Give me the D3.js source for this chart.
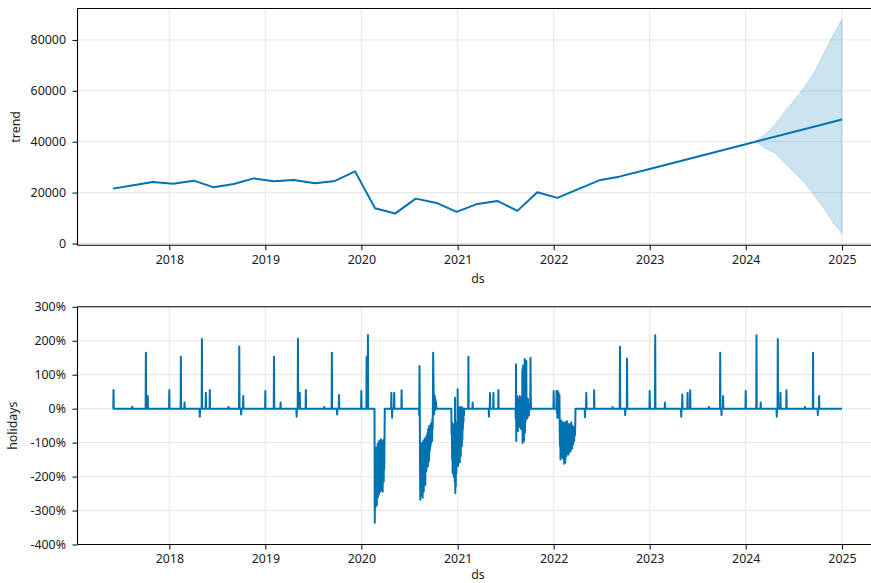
<!DOCTYPE html>
<html>
<head>
<meta charset="utf-8">
<script src="https://cdn.jsdelivr.net/npm/d3@7"></script>
<style>
  html, body { margin: 0; padding: 0; background: #ffffff; }
  svg { display: block; font-family: "Noto Sans", "Open Sans", sans-serif; }
</style>
</head>
<body>
<svg id="chart" width="871" height="583"></svg>
<script>
// ---------- trend component (knots of the piecewise-linear trend) ----------
const trendDates = [
  "2017-06-01", "2017-08-17", "2017-10-30", "2018-01-16", "2018-04-04", "2018-06-19",
  "2018-09-03", "2018-11-18", "2019-02-02", "2019-04-19", "2019-07-09", "2019-09-23",
  "2019-12-08", "2020-02-22", "2020-05-08", "2020-07-26", "2020-10-13", "2020-12-28",
  "2021-03-17", "2021-06-01", "2021-08-16", "2021-10-31", "2022-01-15", "2022-06-23",
  "2022-09-07", "2023-01-01", "2024-01-01", "2025-01-01"
];
const trendValues = [
  21569, 22863, 24196, 23529, 24706, 22078,
  23412, 25608, 24431, 24980, 23647, 24588,
  28353, 13843, 11765, 17647, 15961, 12431,
  15569, 16745, 12824, 20118, 17922, 24824,
  26275, 29294, 39000, 48745
];

// ---------- forecast uncertainty interval of the trend ----------
const bandDates = [
  "2024-02-08", "2024-03-14", "2024-04-21", "2024-05-29", "2024-07-06",
  "2024-08-13", "2024-09-20", "2024-10-28", "2024-11-29", "2025-01-01"
];
const bandUpper = [40100, 42745, 46667, 51882, 56471, 61686, 67569, 75412, 81961, 88118];
const bandLower = [40100, 37529, 35569, 31647, 27725, 23804, 18549, 13333, 8118, 3922];

// ---------- holidays component (percent effect) ----------
const seriesStart = "2017-06-01";
const seriesEnd = "2025-01-01";

// single-day holiday effects
const holidayDates = [
  "2017-06-03", "2017-08-13", "2017-10-04", "2017-10-11",
  "2018-01-01", "2018-02-14", "2018-02-28", "2018-04-27", "2018-05-05", "2018-05-20",
  "2018-06-04", "2018-08-14", "2018-09-24", "2018-10-01", "2018-10-09",
  "2019-01-01", "2019-02-03", "2019-02-28", "2019-04-30", "2019-05-05", "2019-05-12",
  "2019-06-04", "2019-08-13", "2019-09-11", "2019-10-01", "2019-10-08",
  "2020-01-01", "2020-01-21", "2020-01-26", "2020-04-24", "2020-04-27", "2020-05-05",
  "2020-06-02",
  "2021-02-11", "2021-02-27", "2021-04-30", "2021-05-04", "2021-05-17", "2021-06-05",
  "2022-01-01", "2022-04-30", "2022-05-05", "2022-06-04", "2022-08-13", "2022-09-10",
  "2022-09-30", "2022-10-07",
  "2023-01-01", "2023-01-22", "2023-02-28", "2023-05-01", "2023-05-05", "2023-05-25",
  "2023-06-04", "2023-08-14", "2023-09-26", "2023-10-01", "2023-10-07",
  "2024-01-01", "2024-02-11", "2024-02-27", "2024-04-28", "2024-05-02", "2024-05-12",
  "2024-06-04", "2024-08-13", "2024-09-13", "2024-10-01", "2024-10-06"
];
const holidayEffects = [
  55, 6, 165, 37,
  54, 153, 18, -24, 205, 47,
  55, 5, 183, -17, 37,
  52, 153, 18, -24, 206, 47,
  55, 5, 165, -17, 40,
  52, 153, 217, 47, -27, 47,
  54,
  153, 18, -24, 46, 47, 55,
  52, -25, 47, 54, 5, 182,
  -19, 148,
  52, 216, 18, -24, 42, 47,
  54, 5, 165, -19, 37,
  52, 216, 18, -24, 205, 47,
  54, 5, 165, -19, 37
];

// multi-week disruption periods: first day and one value per day
const waveStarts = ["2020-02-21", "2020-08-08", "2020-12-09", "2021-08-10", "2022-01-12"];
const wave1 = [
  -336, -180, -292, -130, -270, -115, -250, -160, -285, -120, -240, -105, -260,
  -140, -230, -100, -253, -95, -220, -130, -245, -100, -210, -90, -240, -120,
  -200, -95, -230, -110, -245, -100, -190, -92, -215, -120, -180, -100
];
const wave2 = [
  -20, 126, 40, -150, -268, -120, -240, -180, -105, -255, -140, -230, -100, -262,
  -150, -200, -95, -245, -130, -210, -90, -190, -120, -225, -86, -175, -110, -184,
  -80, -165, -100, -150, -70, -170, -60, -140, -75, -155, -51, -130, -65, -120,
  -55, -110, -45, -100, -60, -85, -40, -95, -30, -60, 20, 165, 90, 47, -17, 40,
  10, 37, -5, 30, 15, 0, 20, 0
];
const wave3 = [
  -76, -40, -150, -60, -189, -45, -170, -80, -200, -50, -160, -95, -215, 32,
  -248, -120, -230, -60, -190, -100, -170, -40, -150, 57, -60, -169, -20, -150,
  5, -130, -30, -158, 2, -120, -10, -140, 5, -100, -20, -110, 3, -90, -15, -60,
  0, -40, 0, -20, 0
];
const wave4 = [
  -30, 131, -95, 20, -60,
  37, -40, 10, -66, 30, -20, 25, -55, 15, -35, 37, -50, 5, -30, 20, -60, 10, -25, 35, -45,
  116, -101, 20, 127, -80, 30, -95, 60, -30, 146, -70, 10, -40, 20,
  -15, 141, -20, -30, 20, -15, -25, 30, 0, -10, 15, -20, 10, -5,
  0, 5, 0, 150, 40, 0
];
const wave5 = [
  52, -10, 50, -27, 52, 10, -25, 48, -20, 30, -27, 40, -60, -110, -40, -150, -55,
  -130, -35, -140, -70, -120, -45, -145, -60, -100, -40, -135, -75, -162, -50, -125,
  -65, -159, -40, -110, -80, -140, -50, -120, -37, -130, -70, -105, -45, -135, -60,
  -115, -50, -128, -75, -100, -45, -125, -60, -110, -40, -95, -70, -118, -50, -90,
  -65, -105, -55, -85, -76, -95, -60, -80, -76, -50, 0
];
const waves = [wave1, wave2, wave3, wave4, wave5];

// axis ticks
const yearTicks = [2018, 2019, 2020, 2021, 2022, 2023, 2024, 2025];
const trendTicks = [0, 20000, 40000, 60000, 80000];
const holidayTicks = [-400, -300, -200, -100, 0, 100, 200, 300];

// ---------- build the daily holiday series ----------
const parse = d3.utcParse("%Y-%m-%d");
const key = d3.utcFormat("%Y-%m-%d");
const effectByDay = new Map();
holidayDates.forEach((d, i) => effectByDay.set(d, holidayEffects[i]));
waves.forEach((vals, w) => {
  const start = parse(waveStarts[w]);
  vals.forEach((v, i) => effectByDay.set(key(d3.utcDay.offset(start, i)), v));
});
const days = d3.utcDay.range(parse(seriesStart), d3.utcDay.offset(parse(seriesEnd), 1));
const holidaySeries = days.map(d => ({ date: d, value: effectByDay.get(key(d)) ?? 0 }));

const trendSeries = trendDates.map((d, i) => ({ date: parse(d), value: trendValues[i] }));
const bandSeries = bandDates.map((d, i) => ({ date: parse(d), hi: bandUpper[i], lo: bandLower[i] }));

// ---------- layout ----------
const svg = d3.select("#chart");
const color = "#0072B2";
const gridColor = "#e6e6e6";
const fontSize = "12.4px";
const textColor = "#1a1a1a";

const x = d3.scaleUtc()
  .domain([parse("2018-01-01"), parse("2025-01-01")])
  .range([169.3, 842]);
const plotLeft = 77.5, plotRight = 880;

const panels = [
  { top: 8.5, bottom: 245.3, domain: [-700, 92350], ticks: trendTicks,
    fmt: d3.format("d"), label: "trend", labelX: 20, titleGap: 38 },
  { top: 306.8, bottom: 544.5, domain: [-400, 300], ticks: holidayTicks,
    fmt: d => String(d) + "%", label: "holidays", labelX: 16.5, titleGap: 34.8 }
];
panels.forEach(p => {
  p.y = d3.scaleLinear().domain(p.domain).range([p.bottom, p.top]);
});

svg.append("defs").selectAll("clipPath").data(panels).join("clipPath")
  .attr("id", (d, i) => "clip" + i)
  .append("rect")
  .attr("x", plotLeft).attr("y", d => d.top)
  .attr("width", plotRight - plotLeft).attr("height", d => d.bottom - d.top);

panels.forEach((p, i) => {
  const g = svg.append("g");

  // grid
  g.append("g").selectAll("line").data(p.ticks).join("line")
    .attr("x1", plotLeft).attr("x2", plotRight)
    .attr("y1", d => p.y(d)).attr("y2", d => p.y(d))
    .attr("stroke", gridColor).attr("stroke-width", 1);
  g.append("g").selectAll("line").data(yearTicks).join("line")
    .attr("x1", d => x(parse(d + "-01-01"))).attr("x2", d => x(parse(d + "-01-01")))
    .attr("y1", p.top).attr("y2", p.bottom)
    .attr("stroke", gridColor).attr("stroke-width", 1);

  const plot = g.append("g").attr("clip-path", `url(#clip${i})`);

  if (i === 0) {
    // uncertainty band
    plot.append("path").datum(bandSeries)
      .attr("d", d3.area().x(d => x(d.date)).y0(d => p.y(d.lo)).y1(d => p.y(d.hi)))
      .attr("fill", color).attr("fill-opacity", 0.2)
      .attr("stroke", color).attr("stroke-opacity", 0.2).attr("stroke-width", 1);
    plot.append("path").datum(trendSeries)
      .attr("d", d3.line().x(d => x(d.date)).y(d => p.y(d.value)))
      .attr("fill", "none").attr("stroke", color).attr("stroke-width", 2)
      .attr("stroke-linejoin", "round");
  } else {
    plot.append("path").datum(holidaySeries)
      .attr("d", d3.line().x(d => x(d.date)).y(d => p.y(d.value)))
      .attr("fill", "none").attr("stroke", color).attr("stroke-width", 2)
      .attr("stroke-linejoin", "round");
  }

  // y axis
  const ya = g.append("g").attr("transform", `translate(${plotLeft},0)`)
    .call(d3.axisLeft(p.y).tickValues(p.ticks).tickFormat(p.fmt).tickSize(5).tickPadding(6.5));
  ya.select(".domain").remove();

  // x axis
  const xa = g.append("g").attr("transform", `translate(0,${p.bottom})`)
    .call(d3.axisBottom(x).tickValues(yearTicks.map(d => parse(d + "-01-01")))
      .tickFormat(d3.utcFormat("%Y")).tickSize(5).tickPadding(4.5));
  xa.select(".domain").remove();

  [ya, xa].forEach(a => {
    a.selectAll("text").attr("font-size", fontSize).attr("fill", textColor)
      .attr("font-family", '"Noto Sans", "Open Sans", sans-serif');
    a.selectAll("line").attr("stroke", "#000").attr("stroke-width", 1);
  });

  // spines
  g.append("line").attr("x1", plotLeft).attr("x2", plotLeft)
    .attr("y1", p.top).attr("y2", p.bottom).attr("stroke", "#000").attr("stroke-width", 1.1);
  g.append("line").attr("x1", plotLeft).attr("x2", plotRight)
    .attr("y1", p.top).attr("y2", p.top).attr("stroke", "#000").attr("stroke-width", 1.1);
  g.append("line").attr("x1", plotLeft).attr("x2", plotRight)
    .attr("y1", p.bottom).attr("y2", p.bottom).attr("stroke", "#000").attr("stroke-width", 1.1);

  // axis titles
  g.append("text")
    .attr("x", (plotLeft + 878.5) / 2).attr("y", p.bottom + p.titleGap)
    .attr("text-anchor", "middle").attr("font-size", fontSize).attr("fill", textColor)
    .text("ds");
  g.append("text")
    .attr("transform", `translate(${p.labelX},${(p.top + p.bottom) / 2}) rotate(-90)`)
    .attr("text-anchor", "middle").attr("font-size", fontSize).attr("fill", textColor)
    .text(p.label);
});
</script>
</body>
</html>
